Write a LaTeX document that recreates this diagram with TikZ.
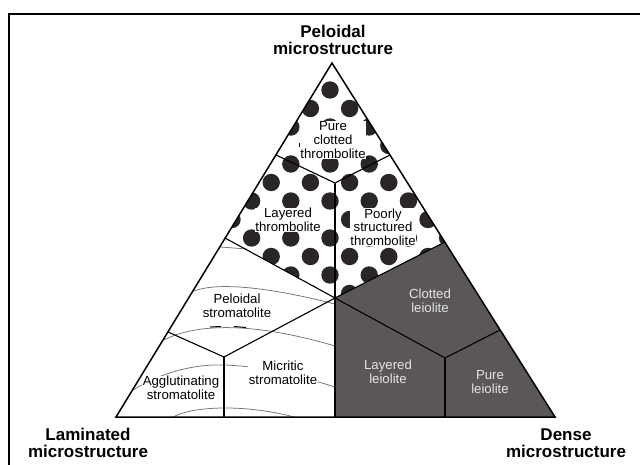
\documentclass[tikz,border=0pt]{standalone}
\usepackage{fontspec}
\setmainfont{Liberation Sans}
\definecolor{leio}{RGB}{91,87,88}
\definecolor{clot}{RGB}{42,38,39}
\definecolor{leiotext}{RGB}{228,228,228}
\begin{document}
\begin{tikzpicture}[x=1pt,y=-1pt,
    edge/.style={line width=1.5pt,line join=miter},
    bound/.style={line width=1.1pt},
    lamina/.style={black!55,line width=0.75pt},
    lbl/.style={align=center,inner sep=0.8pt,font=\fontsize{13.2}{13.6}\selectfont},
    lblw/.style={lbl,fill=white},
    lbld/.style={lbl,text=leiotext},
    ttl/.style={align=center,inner sep=0pt,font=\bfseries\fontsize{17}{16.5}\selectfont}]
  \useasboundingbox (0,0) rectangle (640,465);
  \begin{scope}
    \clip (0,0) rectangle (640,465);
    \draw[line width=1.5pt] (9,500) |- (700,14);
  \end{scope}
  \coordinate (apex) at (332,63);
  \coordinate (lam) at (116,417);
  \coordinate (den) at (555,417);
  \coordinate (ytop) at (335,183);
  \coordinate (ymid) at (335,298);
  \coordinate (yleft) at (224,357);
  \coordinate (yright) at (445,358);
  \coordinate (l1) at (276,155);
  \coordinate (r1) at (390,155);
  \coordinate (l2) at (225,238);
  \coordinate (r2) at (445,242);
  \coordinate (l3) at (168,332);
  \coordinate (r3) at (500,330);
  \coordinate (b1) at (224,417);
  \coordinate (b2) at (335,417);
  \coordinate (b3) at (445,417);
  \fill[leio] (ymid) -- (r2) -- (den) -- (b2) -- cycle;
  \begin{scope}
    \clip (apex) -- (l2) -- (ymid) -- (r2) -- cycle;
    \foreach \j in {0,...,11}
      \foreach \i in {-6,...,6}
        \fill[clot] ({330+39.2*\i-19.6*mod(\j,2)},{90+18.5*\j}) circle[radius=8.7pt];
  \end{scope}
  \begin{scope}[lamina]
    \draw (220,247) -- (247,249);
    \draw (194,291) .. controls (215,283) and (260,285) .. (335,304);
    \draw (164,340) .. controls (195,324) and (250,321) .. (335,346);
    \draw (133,390) .. controls (165,370) and (200,364) .. (224,365)
      .. controls (260,366) and (300,376) .. (335,387);
    \draw (173,417) .. controls (195,405) and (250,405) .. (294,417);
  \end{scope}
  \draw[line width=1pt] (210,327) -- (221,326.5) (234,326.5) -- (246,327.5);
  \draw[line width=0.6pt] (319,121) -- (325,121) (299,143) -- (299,147) (364,158) -- (369,158);
  \node[lblw] (pct) at (333,140) {Pure\\clotted\\thrombolite};
  \node[lblw] (lt) at (288,220) {Layered\\thrombolite};
  \node[lblw] (pst) at (383,227) {Poorly\\structured\\thrombolite};
  \node[lblw] (ps) at (237,306) {Peloidal\\stromatolite};
  \node[lblw] (ms) at (283,373) {Micritic\\stromatolite};
  \node[lblw] (as) at (181,388) {Agglutinating\\stromatolite};
  \node[lbld] (cl) at (430,301) {Clotted\\leiolite};
  \node[lbld] (ll) at (388,372) {Layered\\leiolite};
  \node[lbld] (pl) at (490,382) {Pure\\leiolite};
  \begin{scope}[bound]
    \draw (l1) -- (ytop) -- (r1);
    \draw (ytop) -- (b2);
    \draw (l2) -- (ymid) -- (yright) -- (r3);
    \draw (r2) -- (ymid) -- (yleft) -- (l3);
    \draw (yleft) -- (b1);
    \draw (yright) -- (b3);
  \end{scope}
  \draw[edge] (apex) -- (lam) -- (den) -- cycle;
  \node[ttl] (pel) at (333,40) {Peloidal\\microstructure};
  \node[ttl] (lamt) at (88,443) {Laminated\\microstructure};
  \node[ttl] (dent) at (566,443) {Dense\\microstructure};
\end{tikzpicture}
\end{document}
